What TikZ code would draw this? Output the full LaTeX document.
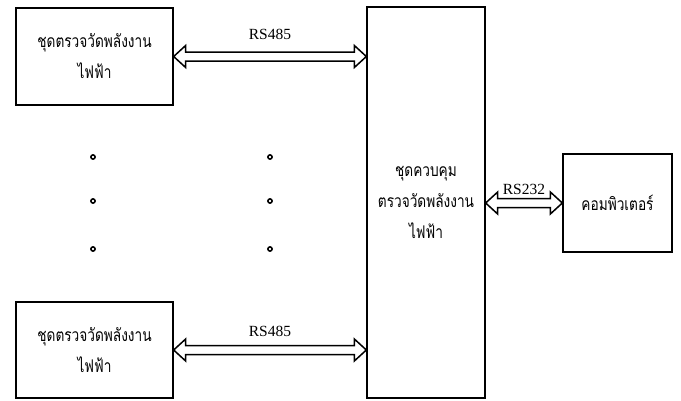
\documentclass[tikz,border=0pt]{standalone}
\usepackage{fontspec}
\setmainfont{Liberation Serif}
\newfontfamily\thaifont[Script=Thai, FakeStretch=0.78]{Loma}
\usetikzlibrary{arrows.meta,positioning,calc}

\begin{document}
\begin{tikzpicture}[x=1pt,y=-1pt,
            box/.style={draw, line width=1.3pt, font=\thaifont\fontsize{17.5}{31}\selectfont,
                        align=center, inner sep=0pt},
            link/.style={line width=1.5pt, fill=white, line join=miter,
                         to path={let \p1=(\tikztostart), \p2=(\tikztotarget) in
                           (\x1,\y1) -- (\x1+12pt,\y1+11pt) -- (\x1+12pt,\y1+4.5pt)
                           -- (\x2-12pt,\y1+4.5pt) -- (\x2-12pt,\y1+11pt) -- (\x2,\y1)
                           -- (\x2-12pt,\y1-11pt) -- (\x2-12pt,\y1-4.5pt)
                           -- (\x1+12pt,\y1-4.5pt) -- (\x1+12pt,\y1-11pt) -- cycle
                           \tikztonodes}},
            lbl/.style={font=\fontsize{15.5}{17}\selectfont, inner sep=1pt}
          ]
  \useasboundingbox (0,0) rectangle (681,400);
  \node[box, minimum width=157pt, minimum height=97pt] (meter1) at (94.5,56.5)
       {ชุดตรวจวัดพลังงาน\\ไฟฟ้า};
  \node[box, minimum width=157pt, minimum height=96pt] (meter2) at (94.5,350)
       {ชุดตรวจวัดพลังงาน\\ไฟฟ้า};
  \node[box, minimum width=118pt, minimum height=391pt] (ctrl) at (426,202.5)
       {ชุดควบคุม\\ตรวจวัดพลังงาน\\ไฟฟ้า};
  \node[box, minimum width=109pt, minimum height=98pt] (pc) at (617.5,203)
       {คอมพิวเตอร์};
  % links
  \draw[link] (meter1.east) to (meter1.east -| ctrl.west);
  \draw[link] (meter2.east) to (meter2.east -| ctrl.west);
  \draw[link] (pc.west -| ctrl.east) to (pc.west);
  \node[lbl, above=16pt] (rs1) at ($(meter1.east)!0.5!(meter1.east -| ctrl.west)$) {RS485};
  \node[lbl, above=12pt] (rs2) at ($(meter2.east)!0.5!(meter2.east -| ctrl.west)$) {RS485};
  \node[lbl, above=7pt] (rs3) at ($(pc.west -| ctrl.east)!0.5!(pc.west)$) {RS232};
  % dots
  \foreach \x in {93,270}
    \foreach \y in {157,201,249}
      \draw[line width=1.6pt] (\x,\y) circle (2.1pt);
\end{tikzpicture}
\end{document}
